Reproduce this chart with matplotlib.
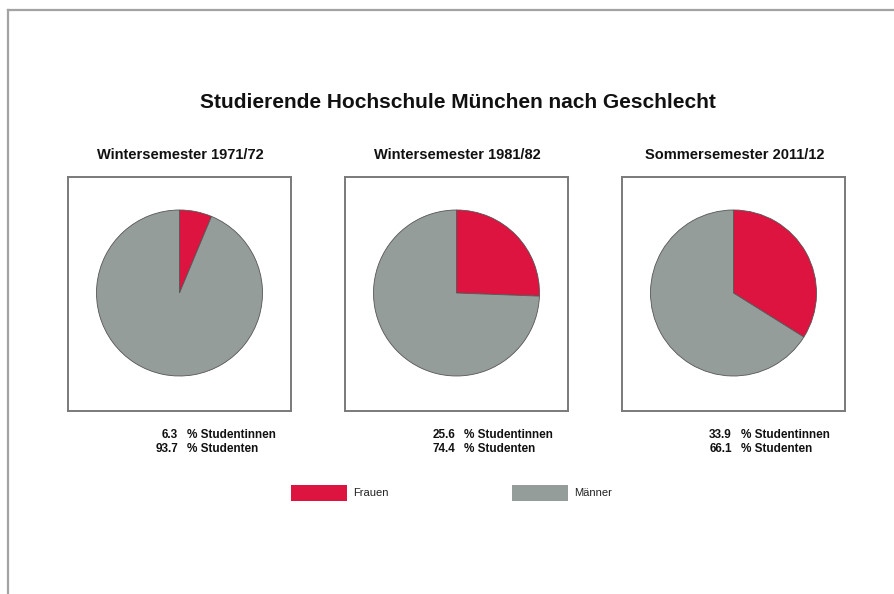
"""
Studierende Hochschule München nach Geschlecht -- three pie charts.
"""

import matplotlib
matplotlib.use("Agg")
import matplotlib.pyplot as plt
from matplotlib.lines import Line2D
from matplotlib.patches import Rectangle

# =========================================================================
#  Data
# =========================================================================
TITLE = "Studierende Hochschule München nach Geschlecht"
semester = ["Wintersemester 1971/72", "Wintersemester 1981/82", "Sommersemester 2011/12"]
frauen = [6.3, 25.6, 33.9]       # % Studentinnen
maenner = [93.7, 74.4, 66.1]     # % Studenten
legend_labels = ["Frauen", "Männer"]

RED = "#DC143F"
GRAY = "#959D9B"

plt.rcParams["font.family"] = ["Liberation Sans", "DejaVu Sans"]

W, H = 894, 594
fig = plt.figure(figsize=(W / 100, H / 100), dpi=100)


def fx(px):
    return px / W


def fy(py):
    return 1 - py / H


# outer frame (top and left only)
fig.add_artist(Line2D([fx(8), 1], [fy(10), fy(10)], color="#a3a3a3", lw=1.6))
fig.add_artist(Line2D([fx(8), fx(8)], [fy(10), 0], color="#a3a3a3", lw=1.6))

fig.text(fx(458), fy(102), TITLE, ha="center", va="center",
         fontsize=15, fontweight="bold", color="#111111")

# =========================================================================
#  Panels
# =========================================================================
box_left = [68, 345, 622]
box_top, box_w, box_h = 177, 223, 234

for i in range(3):
    x0 = box_left[i]
    ax = fig.add_axes([fx(x0), fy(box_top + box_h), box_w / W, box_h / H])
    ax.pie([frauen[i], maenner[i]], colors=[RED, GRAY], startangle=90,
           counterclock=False, center=(box_w / 2, 118), radius=83, frame=True,
           wedgeprops=dict(edgecolor="#555555", linewidth=0.6))
    ax.set_xlim(0, box_w)
    ax.set_ylim(0, box_h)
    ax.set_aspect("auto")
    ax.set_xticks([])
    ax.set_yticks([])
    for s in ax.spines.values():
        s.set_color("#7a7a7a")
        s.set_linewidth(1.4)

    fig.text(fx(x0 + box_w / 2 + 1), fy(155), semester[i], ha="center", va="center",
             fontsize=10.5, fontweight="bold", color="#111111")

    for j, (val, lab) in enumerate([(frauen[i], "% Studentinnen"),
                                    (maenner[i], "% Studenten")]):
        yy = fy(435 + 14 * j)
        fig.text(fx(x0 + 110), yy, f"{val:.1f}", ha="right", va="center",
                 fontsize=8.5, fontweight="bold", color="#111111")
        fig.text(fx(x0 + 119), yy, lab, ha="left", va="center",
                 fontsize=8.5, fontweight="bold", color="#111111")

# =========================================================================
#  Legend
# =========================================================================
leg_x = [291, 512]
for k, col in enumerate([RED, GRAY]):
    fig.add_artist(Rectangle((fx(leg_x[k]), fy(501)), 56 / W, 16 / H,
                             facecolor=col, edgecolor="none",
                             transform=fig.transFigure))
    fig.text(fx(leg_x[k] + 62), fy(493), legend_labels[k], ha="left",
             va="center", fontsize=8, color="#222222")

fig.savefig("out.png", dpi=100)
